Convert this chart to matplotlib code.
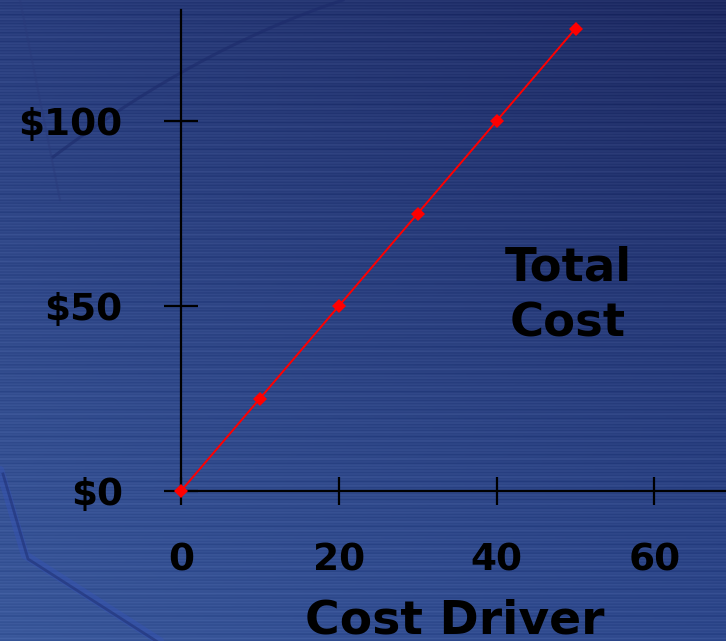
import numpy as np
import matplotlib
matplotlib.use("Agg")
import matplotlib.pyplot as plt

# --- data -------------------------------------------------------------
driver = [0, 10, 20, 30, 40, 50]
total_cost = [0, 25, 50, 75, 100, 125]
x_ticks = [0, 20, 40, 60]
x_tick_labels = ["0", "20", "40", "60"]
y_ticks = [0, 50, 100]
y_tick_labels = ["$0", "$50", "$100"]

W, H = 726, 641
DPI = 100
fig = plt.figure(figsize=(W / DPI, H / DPI), dpi=DPI)

# --- slide background: blue gradient with fine horizontal banding ------
bg = fig.add_axes([0, 0, 1, 1], zorder=0)
yy, xx = np.mgrid[0:H, 0:W]
u = xx / (W - 1)
v = yy / (H - 1)
tl = np.array([42, 62, 126])
tr = np.array([30, 42, 98])
bl = np.array([58, 88, 155])
br = np.array([46, 72, 140])
img = ((1 - u)[..., None] * (1 - v)[..., None] * tl
       + u[..., None] * (1 - v)[..., None] * tr
       + (1 - u)[..., None] * v[..., None] * bl
       + u[..., None] * v[..., None] * br)
rows = np.arange(H)
band = 5 * np.sin(rows * 2.1) + 3 * np.sin(rows * 0.7 + 1.3) + 2 * np.sin(rows * 5.3)
img = img + band[:, None, None]
img = np.clip(img, 0, 255) / 255.0
bg.imshow(img, extent=[0, W, H, 0], aspect="auto", interpolation="bilinear")
# faint decorative curves
t = np.linspace(0, 1, 200)
bg.plot(53 + 290 * t, 157 - 157 * t - 61 * t * (1 - t), color="#1c2a6a", lw=2.2, alpha=0.55)
bg.plot(20 + 40 * t, 0 + 200 * t, color="#2a3a7a", lw=1.5, alpha=0.45)
cx = np.concatenate([np.linspace(0, 25, 60), np.linspace(25, 160, 120)])
cy = np.concatenate([np.linspace(470, 555, 60), 555 + (np.linspace(25, 160, 120) - 25) * 0.64])
bg.plot(cx, cy, color="#3552b5", lw=6, alpha=0.45, solid_capstyle="round")
bg.plot(cx + 3, cy + 4, color="#1a2868", lw=2, alpha=0.45)
bg.set_xlim(0, W)
bg.set_ylim(H, 0)
bg.axis("off")

# --- chart axes ----------------------------------------------------------
x0_px, x_per_unit = 181, 7.89
y0_px, y_per_unit = 491, 3.70
xmax = (W - x0_px) / x_per_unit
ymax = (y0_px - 10) / y_per_unit
ax = fig.add_axes([x0_px / W, (H - y0_px) / H, 1 - x0_px / W, (y0_px - 10) / H], zorder=1)
ax.patch.set_alpha(0)
ax.set_xlim(0, xmax)
ax.set_ylim(0, ymax)
for s in ("top", "right"):
    ax.spines[s].set_visible(False)
for s in ("left", "bottom"):
    ax.spines[s].set_color("black")
    ax.spines[s].set_linewidth(1.6)

ax.plot(driver, total_cost, color="#ff0000", lw=1.4, marker="D", markersize=7,
        markeredgewidth=0, clip_on=False, zorder=3)

bold = dict(family="DejaVu Sans", weight="bold")
ax.set_xticks(x_ticks)
ax.set_xticklabels(x_tick_labels, fontsize=27, **bold)
ax.set_yticks(y_ticks)
ax.set_yticklabels(y_tick_labels, fontsize=27, **bold)
ax.tick_params(axis="x", direction="inout", length=20, width=1.6, pad=27, color="black")
ax.tick_params(axis="y", direction="inout", length=24, width=1.6, pad=30, color="black")

fig.text(455 / W, 1 - 634 / H, "Cost Driver", fontsize=34, ha="center",
         va="baseline", **bold)
fig.text(568 / W, 1 - 296 / H, "Total\nCost", fontsize=33.5, ha="center", va="center",
         linespacing=1.3, **bold)

fig.savefig("out.png", dpi=DPI)
